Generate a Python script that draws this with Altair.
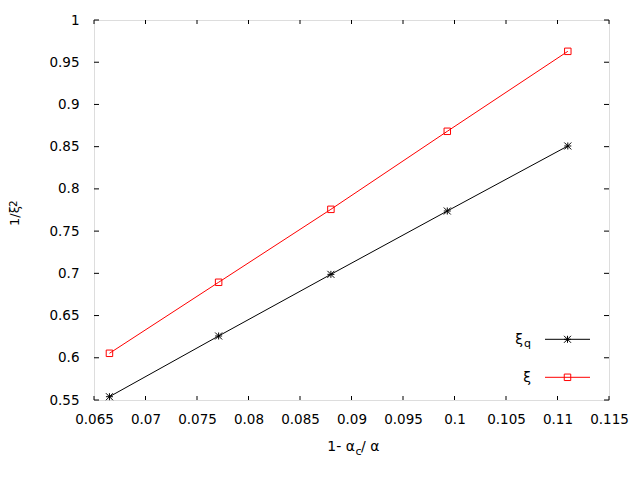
import altair as alt
import pandas as pd

# ---- data ----
x_vals = [0.0665, 0.0771, 0.0880, 0.0993, 0.1110]
y_xi_q = [0.5539, 0.6258, 0.6988, 0.7738, 0.8508]
y_xi = [0.6053, 0.6894, 0.7758, 0.8682, 0.9629]
series_names = ["ξq", "ξ"]
series_colors = ["#000000", "#ff0000"]
x_ticks = [0.065, 0.07, 0.075, 0.08, 0.085, 0.09, 0.095, 0.1, 0.105, 0.11, 0.115]
y_ticks = [0.55, 0.6, 0.65, 0.7, 0.75, 0.8, 0.85, 0.9, 0.95, 1.0]
legend_main = ["ξ", "ξ"]
legend_sub = ["q", ""]

FONT = "DejaVu Sans"
W, H = 515, 380
STAR = "M-1,0L1,0M0,-1L0,1M-1,-1L1,1M-1,1L1,-1"

df = pd.DataFrame({
    "series": [series_names[0]] * len(x_vals) + [series_names[1]] * len(x_vals),
    "x": x_vals + x_vals,
    "y": y_xi_q + y_xi,
})

xscale = alt.Scale(domain=[x_ticks[0], x_ticks[-1]], nice=False, zero=False)
yscale = alt.Scale(domain=[y_ticks[0], y_ticks[-1]], nice=False, zero=False)
cscale = alt.Scale(domain=series_names, range=series_colors)

xaxis = alt.Axis(values=x_ticks, format="~g", title=None, grid=False, ticks=False, tickSize=0,
                 domain=False, labelFont=FONT, labelFontSize=13.5, labelColor="black",
                 labelPadding=12, labelFlush=False, labelOverlap=False)
yaxis = alt.Axis(values=y_ticks, format="~g", title=None, grid=False, ticks=False, tickSize=0,
                 domain=False, labelFont=FONT, labelFontSize=13.5, labelColor="black",
                 labelPadding=15, labelFlush=False, labelOverlap=False)

base = alt.Chart(df)
lines = base.mark_line(strokeWidth=1).encode(
    x=alt.X("x:Q", scale=xscale, axis=xaxis),
    y=alt.Y("y:Q", scale=yscale, axis=yaxis),
    color=alt.Color("series:N", scale=cscale, legend=None),
    detail="series:N",
)
stars = base.transform_filter(alt.datum.series == series_names[0]).mark_point(
    shape=STAR, size=49, filled=False, strokeWidth=1, opacity=1
).encode(x=alt.X("x:Q", scale=xscale), y=alt.Y("y:Q", scale=yscale),
         color=alt.Color("series:N", scale=cscale, legend=None))
squares = base.transform_filter(alt.datum.series == series_names[1]).mark_point(
    shape="square", size=42, filled=False, strokeWidth=1, opacity=1
).encode(x=alt.X("x:Q", scale=xscale), y=alt.Y("y:Q", scale=yscale),
         color=alt.Color("series:N", scale=cscale, legend=None))

# inward ticks on all four sides (gnuplot style mirror tics)
xt = pd.DataFrame({"t": x_ticks})
yt = pd.DataFrame({"t": y_ticks})
tick_bottom = alt.Chart(xt).mark_rule(color="black", strokeWidth=1).encode(
    x=alt.X("t:Q", scale=xscale), y=alt.value(H), y2=alt.value(H - 4))
tick_top = alt.Chart(xt).mark_rule(color="black", strokeWidth=1).encode(
    x=alt.X("t:Q", scale=xscale), y=alt.value(0), y2=alt.value(4))
tick_left = alt.Chart(yt).mark_rule(color="black", strokeWidth=1).encode(
    y=alt.Y("t:Q", scale=yscale), x=alt.value(0), x2=alt.value(5))
tick_right = alt.Chart(yt).mark_rule(color="black", strokeWidth=1).encode(
    y=alt.Y("t:Q", scale=yscale), x=alt.value(W), x2=alt.value(W - 5))

one = pd.DataFrame({"a": [0]})


def txt(s, x, y, size=14, align="left", angle=0, baseline="alphabetic", color="black"):
    return alt.Chart(one).mark_text(
        text=s, font=FONT, fontSize=size, align=align, baseline=baseline,
        angle=angle, color=color
    ).encode(x=alt.value(x), y=alt.value(y))


# axis titles with sub/superscripts
xt1 = txt("1- α", 261, 431, align="right")
xt2 = txt("c", 261.5, 434.5, size=11)
xt3 = txt("/ α", 267, 431)
yt1 = txt("1/ξ", -75, 206, size=13, angle=270)
yt2 = txt("2", -77.5, 187, size=10.5, angle=270)

# key (bottom right, inside the plot)
key_layers = []
key_y = [319.3, 357.3]
for i in range(2):
    ky = key_y[i]
    key_layers.append(alt.Chart(one).mark_rule(color=series_colors[i], strokeWidth=1).encode(
        x=alt.value(451), x2=alt.value(496), y=alt.value(ky)))
    key_layers.append(alt.Chart(one).mark_point(
        shape=STAR if i == 0 else "square", size=49 if i == 0 else 42, filled=False,
        strokeWidth=1, color=series_colors[i], opacity=1
    ).encode(x=alt.value(473.5), y=alt.value(ky)))
    if legend_sub[i]:
        key_layers.append(txt(legend_main[i], 429, ky + 5, align="right"))
        key_layers.append(txt(legend_sub[i], 430, ky + 7.5, size=11))
    else:
        key_layers.append(txt(legend_main[i], 437, ky + 5, align="right"))

chart = alt.layer(
    lines, stars, squares, tick_bottom, tick_top, tick_left, tick_right,
    xt1, xt2, xt3, yt1, yt2, *key_layers
).properties(
    width=W, height=H,
    autosize=alt.AutoSizeParams(type="none"),
    padding={"left": 86, "top": 12, "right": 23, "bottom": 72},
).configure_view(stroke="black", strokeWidth=1).configure(background="white")

chart.save("out.html", embed_options={"renderer": "svg", "actions": False})
